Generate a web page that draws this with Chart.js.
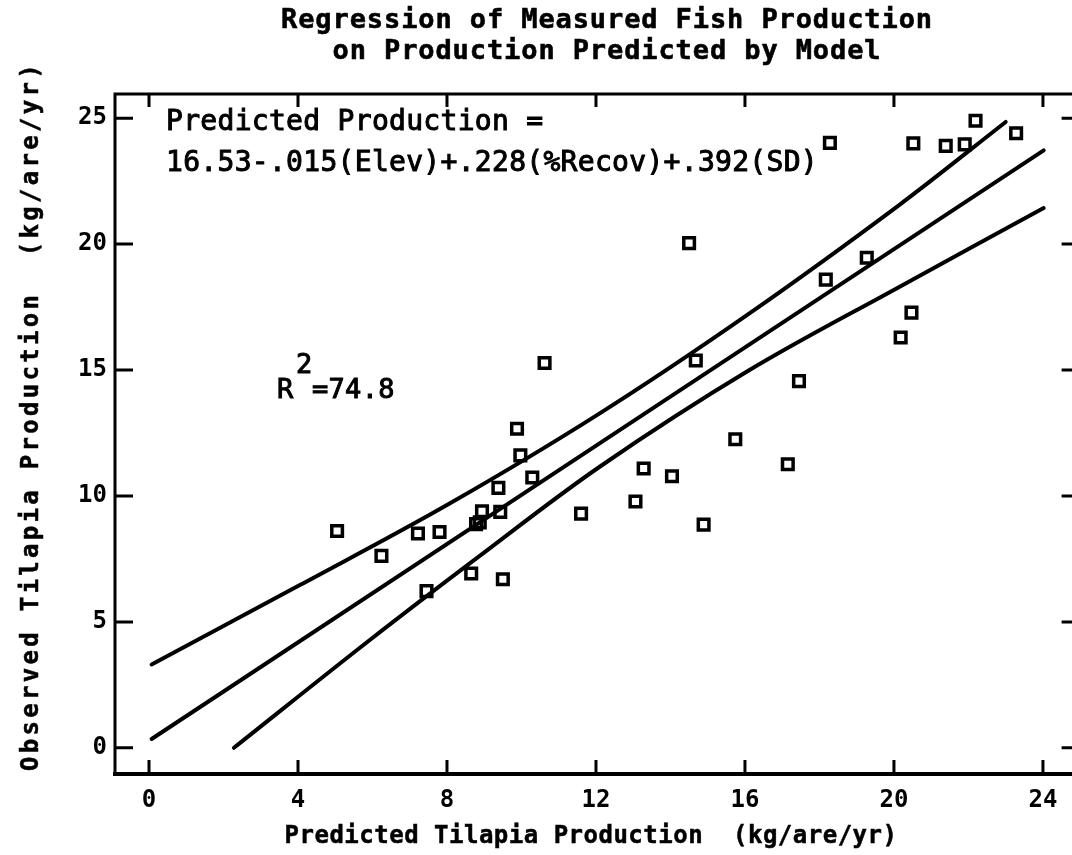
<!DOCTYPE html>
<html>
<head>
<meta charset="utf-8">
<script src="https://cdn.jsdelivr.net/npm/chart.js@4.4.1/dist/chart.umd.min.js"></script>
<style>
  html, body { margin: 0; padding: 0; background: #fff; overflow: hidden; }
  #chart { display: block; }
</style>
</head>
<body>
<canvas id="chart" width="1072" height="855"></canvas>
<script>
// tick values on both axes
const xTickValues = [0, 4, 8, 12, 16, 20, 24];
const yTickValues = [0, 5, 10, 15, 20, 25];

// one square per pond: predicted (x) vs observed (y) production
const predicted = [5.05, 6.24, 7.22, 7.8, 7.45, 8.65, 8.78, 8.88, 8.94, 9.43, 9.38, 9.5,
  9.88, 9.97, 10.29, 10.62, 11.6, 13.06, 13.28, 14.04, 14.89, 14.5, 14.68, 15.74,
  17.15, 17.45, 18.17, 18.28, 19.27, 20.18, 20.47, 20.52, 21.39, 21.9, 22.19, 23.28];
const observed = [8.61, 7.62, 8.51, 8.57, 6.22, 6.92, 8.88, 8.95, 9.39, 9.37, 10.32, 6.69,
  12.67, 11.61, 10.73, 15.28, 9.3, 9.78, 11.09, 10.78, 8.86, 20.04, 15.38, 12.25,
  11.26, 14.56, 18.59, 24.02, 19.46, 16.29, 17.28, 24.0, 23.9, 23.96, 24.9, 24.4];

// fitted regression line and its confidence limits
const fitX = [0.07, 24.02];
const fitY = [0.35, 23.72];
const upperX = [0.07, 4.05, 8.07, 12.09, 16.11, 20.13, 23.0];
const upperY = [3.31, 6.46, 9.7, 13.27, 17.24, 21.54, 24.85];
const lowerX = [2.28, 5.92, 8.79, 12.09, 16.11, 20.13, 24.02];
const lowerY = [0, 4.27, 7.52, 11.15, 14.99, 18.29, 21.43];

const toPoints = (xs, ys) => xs.map((x, i) => ({ x: x, y: ys[i] }));

const MONO = '"DejaVu Sans Mono", "Liberation Mono", monospace';

function lineSet(xs, ys) {
  return {
    data: toPoints(xs, ys),
    showLine: true,
    borderColor: '#000',
    borderWidth: 4,
    borderCapStyle: 'round',
    tension: 0.35,
    pointRadius: 0,
    pointHoverRadius: 0
  };
}

// frame, inward tick marks and all the free text
const plotDecor = {
  id: 'plotDecor',
  afterDraw(chart) {
    const ctx = chart.ctx;
    const a = chart.chartArea;
    const xs = chart.scales.x, ys = chart.scales.y;
    const right = xs.getPixelForValue(24.85);
    ctx.save();
    ctx.strokeStyle = '#000';
    ctx.lineCap = 'butt';

    // left, top and bottom of the frame (the right side runs off the page)
    ctx.lineWidth = 3;
    ctx.beginPath();
    ctx.moveTo(a.left, a.bottom);
    ctx.lineTo(a.left, a.top);
    ctx.lineTo(right, a.top);
    ctx.stroke();
    ctx.lineWidth = 4;
    ctx.beginPath();
    ctx.moveTo(a.left - 2, a.bottom);
    ctx.lineTo(right, a.bottom);
    ctx.stroke();

    ctx.lineWidth = 3;
    xTickValues.forEach(v => {
      const px = xs.getPixelForValue(v);
      ctx.beginPath();
      ctx.moveTo(px, a.bottom);
      ctx.lineTo(px, a.bottom - 14);
      ctx.moveTo(px, a.top);
      ctx.lineTo(px, a.top + 13);
      ctx.stroke();
    });
    yTickValues.forEach(v => {
      const py = ys.getPixelForValue(v);
      ctx.beginPath();
      ctx.moveTo(a.left, py);
      ctx.lineTo(a.left + 18, py);
      ctx.moveTo(right, py);
      ctx.lineTo(right - 13, py);
      ctx.stroke();
    });

    ctx.fillStyle = '#000';
    ctx.textBaseline = 'alphabetic';
    const draw = (t, x, y, w) => {
      ctx.lineWidth = w;
      ctx.fillText(t, x, y);
      if (w > 0) ctx.strokeText(t, x, y);
    };

    // title
    ctx.font = 'bold 27px ' + MONO;
    ctx.letterSpacing = '0.9px';
    ctx.textAlign = 'center';
    draw('Regression of Measured Fish Production', 607, 28, 0.6);
    draw('on Production Predicted by Model', 607, 59, 0.6);

    // x axis title
    ctx.font = 'bold 24px ' + MONO;
    ctx.letterSpacing = '0.5px';
    draw('Predicted Tilapia Production  (kg/are/yr)', 591, 843, 0.5);

    // y axis title
    ctx.save();
    ctx.translate(38, 416);
    ctx.rotate(-Math.PI / 2);
    ctx.letterSpacing = '3.3px';
    draw('Observed Tilapia Production  (kg/are/yr)', 0, 0, 0.5);
    ctx.restore();

    // equation and R squared
    ctx.textAlign = 'left';
    ctx.font = '28px ' + MONO;
    ctx.letterSpacing = '0.3px';
    draw('Predicted Production =', 166, 130, 1);
    draw('16.53-.015(Elev)+.228(%Recov)+.392(SD)', 166, 171, 1);
    ctx.font = '27px ' + MONO;
    draw('R', 277, 398, 1);
    draw('2', 296, 373, 1);
    draw('=74.8', 312, 398, 1);
    ctx.restore();
  }
};

new Chart(document.getElementById('chart'), {
  type: 'scatter',
  data: {
    datasets: [
      {
        data: toPoints(predicted, observed),
        pointStyle: 'rect',
        pointRadius: 7.5,
        pointHoverRadius: 7.5,
        borderColor: '#000',
        backgroundColor: 'rgba(0,0,0,0)',
        borderWidth: 3.5
      },
      lineSet(upperX, upperY),
      lineSet(fitX, fitY),
      lineSet(lowerX, lowerY)
    ]
  },
  options: {
    responsive: false,
    animation: false,
    events: [],
    layout: { autoPadding: false, padding: { top: 94, right: 0, left: 0, bottom: 0 } },
    plugins: {
      legend: { display: false },
      tooltip: { enabled: false }
    },
    scales: {
      x: {
        type: 'linear',
        min: -0.913,
        max: 24.78,
        afterBuildTicks: s => { s.ticks = xTickValues.map(v => ({ value: v })); },
        afterFit: s => { s.height = 81; s.paddingLeft = 0; s.paddingRight = 0; },
        grid: { drawOnChartArea: false, drawTicks: false },
        border: { display: false },
        ticks: {
          padding: 12,
          color: '#000',
          maxRotation: 0,
          font: { family: MONO, size: 24, weight: 'bold' }
        }
      },
      y: {
        type: 'linear',
        min: -1.04,
        max: 25.96,
        afterBuildTicks: s => { s.ticks = yTickValues.map(v => ({ value: v })); },
        afterFit: s => { s.width = 115; },
        grid: { drawOnChartArea: false, drawTicks: false },
        border: { display: false },
        ticks: {
          padding: 8,
          color: '#000',
          font: { family: MONO, size: 24, weight: 'bold' }
        }
      }
    }
  },
  plugins: [plotDecor]
});
</script>
</body>
</html>
